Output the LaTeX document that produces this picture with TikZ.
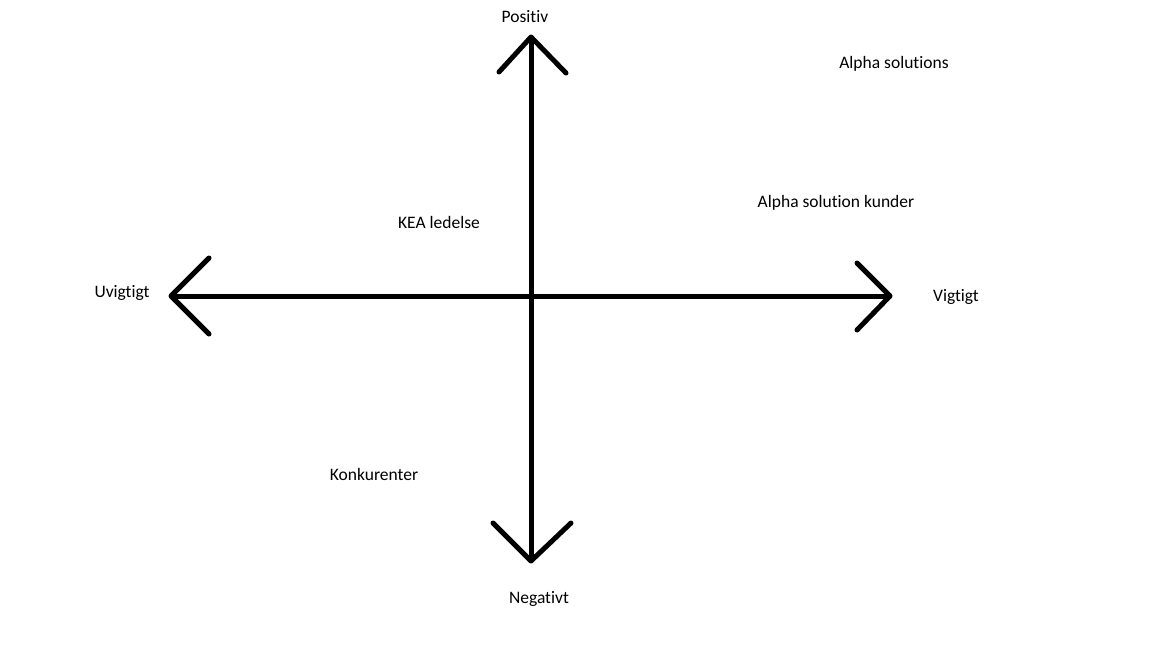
\documentclass[tikz,border=0pt]{standalone}
\usepackage{fontspec}
\setmainfont{Carlito}[Ligatures={NoCommon}]
\begin{document}
\begin{tikzpicture}[x=1pt,y=-1pt,
  axis/.style={line width=5pt,black},
  headline/.style={line width=5pt,black,line cap=round,line join=round},
  lbl/.style={font=\fontsize{17.5}{20}\selectfont,inner sep=0pt,text=black,yshift=-1.5pt}]
\useasboundingbox[fill=white] (0,0) rectangle (1152,648);
% axis end points
\coordinate (top) at (531,37);
\coordinate (bot) at (531,561);
\coordinate (lft) at (171,296);
\coordinate (rgt) at (890,296);
\coordinate (tl) at (499,72);
\coordinate (tr) at (566,73);
\coordinate (bl) at (493,523);
\coordinate (br) at (571,523);
\coordinate (lt) at (209,258);
\coordinate (lb) at (209,334);
\coordinate (rt) at (857,263);
\coordinate (rb) at (857,330);
\draw[axis] (top) -- (bot);
\draw[axis] (lft) -- (rgt);
\draw[headline] (tl) -- (top) -- (tr);
\draw[headline] (bl) -- (bot) -- (br);
\draw[headline] (lt) -- (lft) -- (lb);
\draw[headline] (rt) -- (rgt) -- (rb);
% labels
\node[lbl] (positiv) at (525,15) {Positiv};
\node[lbl] (negativt) at (539,597) {Negativt};
\node[lbl] (uvigtigt) at (122,291) {Uvigtigt};
\node[lbl] (vigtigt) at (956,295) {Vigtigt};
\node[lbl] (alpha) at (894,62) {Alpha solutions};
\node[lbl] (kunder) at (836,201) {Alpha solution kunder};
\node[lbl] (kea) at (439,221) {KEA ledelse};
\node[lbl] (konk) at (374,473) {Konkurenter};
\end{tikzpicture}
\end{document}
